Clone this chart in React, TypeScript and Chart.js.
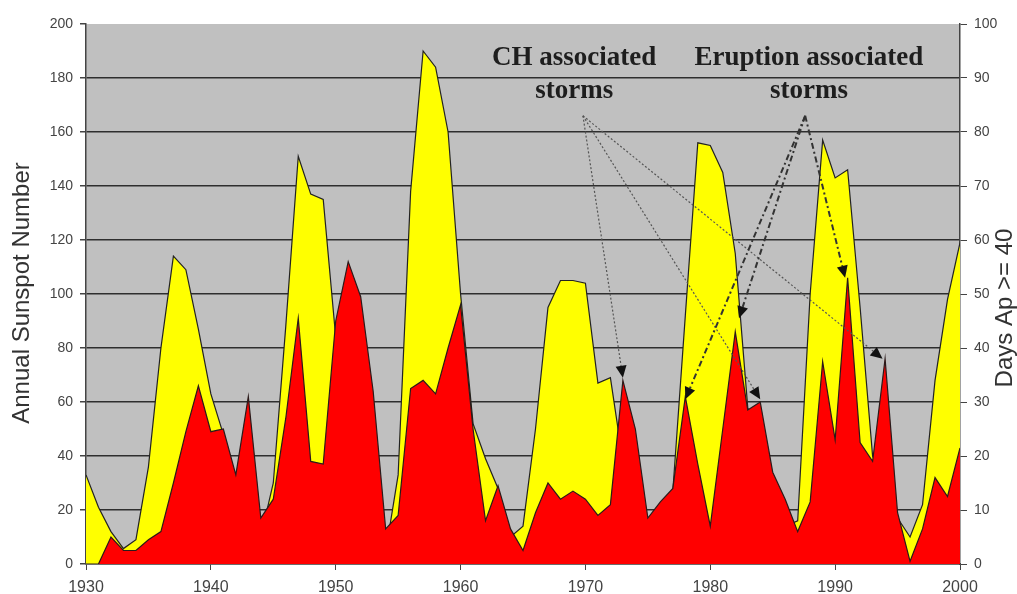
import React, { useEffect, useRef } from 'react';
import { Chart, registerables } from 'chart.js';

Chart.register(...registerables);

// Years on the x axis
const years = [
  1930, 1931, 1932, 1933, 1934, 1935, 1936, 1937, 1938, 1939,
  1940, 1941, 1942, 1943, 1944, 1945, 1946, 1947, 1948, 1949,
  1950, 1951, 1952, 1953, 1954, 1955, 1956, 1957, 1958, 1959,
  1960, 1961, 1962, 1963, 1964, 1965, 1966, 1967, 1968, 1969,
  1970, 1971, 1972, 1973, 1974, 1975, 1976, 1977, 1978, 1979,
  1980, 1981, 1982, 1983, 1984, 1985, 1986, 1987, 1988, 1989,
  1990, 1991, 1992, 1993, 1994, 1995, 1996, 1997, 1998, 1999,
  2000,
];

// Annual sunspot number (left axis, yellow)
const sunspotNumber = [
  33, 21, 12, 5.7, 9, 36, 80, 114, 109, 87,
  63, 48, 31, 16, 10, 30, 88, 151, 137, 135,
  84, 69, 31, 14, 4.4, 33, 138, 190, 184, 160,
  100, 52, 39, 28, 10, 14, 50, 95, 105, 105,
  104, 67, 69, 38, 34, 15, 12.6, 27, 92, 156,
  155, 145, 115, 58, 46, 18, 14, 16, 100, 157,
  143, 146, 95, 40, 30, 17, 10, 22, 68, 98,
  119,
];

// Days with Ap >= 40 (right axis, red)
const daysAp40 = [
  0, 0, 5, 2.5, 2.5, 4.5, 6, 15, 24.5, 33,
  24.5, 25, 16.5, 31, 8.5, 12, 27, 45.5, 19, 18.5,
  45, 56, 49.5, 32, 6.5, 9, 32.5, 34, 31.5, 40,
  48, 25, 8, 14.5, 6.5, 2.5, 9.5, 15, 12, 13.5,
  12, 9, 11, 34, 25, 8.5, 11.5, 14, 31, 18.5,
  7, 25, 43, 28.5, 30, 17, 12, 6, 11.5, 37.5,
  23, 53, 22.5, 19, 38, 9.5, 0.5, 6.5, 16, 12.5,
  21.5,
];

// Axis ranges / tick steps
const leftAxisRange = [0, 200];
const rightAxisRange = [0, 100];
const xAxisRange = [1930, 2000];
const leftStep = 20;
const rightStep = 10;
const xStep = 10;

// Annotation texts
const chLabel = ['CH associated', 'storms'];
const eruptionLabel = ['Eruption associated', 'storms'];

// Annotation arrows in data coordinates [year, left-axis value]
const chOrigin = [1969.8, 166];
const chTargets = [
  [1973, 69],
  [1984, 61],
  [1993.8, 76],
];
const eruptionOrigin = [1987.6, 166];
const eruptionTargets = [
  [1978, 61],
  [1982.3, 91],
  [1990.8, 106],
];

const leftTitle = 'Annual Sunspot Number';
const rightTitle = 'Days Ap >= 40';

function drawArrow(ctx, x0, y0, x1, y1, dash, color, width) {
  const ang = Math.atan2(y1 - y0, x1 - x0);
  const headLen = 12;
  const headW = 5.5;
  const bx = x1 - headLen * Math.cos(ang);
  const by = y1 - headLen * Math.sin(ang);
  ctx.save();
  ctx.strokeStyle = color;
  ctx.lineWidth = width;
  ctx.setLineDash(dash);
  ctx.beginPath();
  ctx.moveTo(x0, y0);
  ctx.lineTo(bx, by);
  ctx.stroke();
  ctx.setLineDash([]);
  ctx.fillStyle = '#111';
  ctx.beginPath();
  ctx.moveTo(x1, y1);
  ctx.lineTo(bx + headW * Math.sin(ang), by - headW * Math.cos(ang));
  ctx.lineTo(bx - headW * Math.sin(ang), by + headW * Math.cos(ang));
  ctx.closePath();
  ctx.fill();
  ctx.restore();
}

const backgroundPlugin = {
  id: 'plotBackground',
  beforeDraw(chart) {
    const { ctx, chartArea } = chart;
    ctx.save();
    ctx.fillStyle = '#c0c0c0';
    ctx.fillRect(chartArea.left, chartArea.top, chartArea.right - chartArea.left, chartArea.bottom - chartArea.top);
    ctx.restore();
  },
};

const annotationPlugin = {
  id: 'annotations',
  afterDraw(chart) {
    const { ctx } = chart;
    const xs = chart.scales.x;
    const ys = chart.scales.y;
    const px = (p) => [xs.getPixelForValue(p[0]), ys.getPixelForValue(p[1])];

    // arrows
    const co = px(chOrigin);
    chTargets.forEach((t) => {
      const p = px(t);
      drawArrow(ctx, co[0], co[1], p[0], p[1], [2, 2], '#555', 1.2);
    });
    const eo = px(eruptionOrigin);
    eruptionTargets.forEach((t) => {
      const p = px(t);
      drawArrow(ctx, eo[0], eo[1], p[0], p[1], [6, 3, 2, 3], '#333', 2);
    });

    // labels
    ctx.save();
    ctx.fillStyle = '#1e1e1e';
    ctx.font = 'bold 27px "Liberation Serif", "Times New Roman", serif';
    ctx.textAlign = 'center';
    ctx.textBaseline = 'alphabetic';
    const chX = xs.getPixelForValue(1969.1);
    const erX = xs.getPixelForValue(1987.9);
    ctx.fillText(chLabel[0], chX, 65);
    ctx.fillText(chLabel[1], chX, 98);
    ctx.fillText(eruptionLabel[0], erX, 65);
    ctx.fillText(eruptionLabel[1], erX, 98);
    ctx.restore();

    // axis titles
    ctx.save();
    ctx.fillStyle = '#333';
    ctx.font = '24px "Liberation Sans", Arial, sans-serif';
    ctx.textAlign = 'center';
    ctx.textBaseline = 'middle';
    ctx.translate(22, 293);
    ctx.rotate(-Math.PI / 2);
    ctx.fillText(leftTitle, 0, 0);
    ctx.restore();

    ctx.save();
    ctx.fillStyle = '#333';
    ctx.font = '24px "Liberation Sans", Arial, sans-serif';
    ctx.textAlign = 'center';
    ctx.textBaseline = 'middle';
    ctx.translate(1005, 308);
    ctx.rotate(-Math.PI / 2);
    ctx.fillText(rightTitle, 0, 0);
    ctx.restore();
  },
};

export default function App() {
  const canvasRef = useRef(null);

  useEffect(() => {
    const canvas = canvasRef.current;
    if (!canvas) return;
    const tickFont = { family: '"Liberation Sans", Arial, sans-serif', size: 14 };
    const xTickFont = { family: '"Liberation Sans", Arial, sans-serif', size: 16 };
    const chart = new Chart(canvas, {
      type: 'line',
      data: {
        datasets: [
          {
            label: 'Days Ap >= 40',
            data: years.map((yr, i) => ({ x: yr, y: daysAp40[i] })),
            yAxisID: 'y1',
            backgroundColor: '#ff0000',
            borderColor: '#2a1a1a',
            borderWidth: 1.2,
            fill: 'origin',
            tension: 0,
            pointRadius: 0,
            order: 0,
          },
          {
            label: 'Annual Sunspot Number',
            data: years.map((yr, i) => ({ x: yr, y: sunspotNumber[i] })),
            yAxisID: 'y',
            backgroundColor: '#ffff00',
            borderColor: '#222222',
            borderWidth: 1.2,
            fill: 'origin',
            tension: 0,
            pointRadius: 0,
            order: 1,
          },
        ],
      },
      options: {
        responsive: false,
        animation: false,
        devicePixelRatio: 1,
        layout: { padding: { top: 24, left: 0, right: 0, bottom: 0 } },
        plugins: {
          legend: { display: false },
          tooltip: { enabled: false },
        },
        scales: {
          x: {
            type: 'linear',
            min: xAxisRange[0],
            max: xAxisRange[1],
            afterFit: (s) => { s.height = 30; },
            ticks: {
              stepSize: xStep,
              color: '#444',
              font: xTickFont,
              padding: 8,
              maxRotation: 0,
              callback: (v) => String(v),
            },
            grid: { drawOnChartArea: false, drawTicks: true, tickLength: 6, tickColor: '#444' },
            border: { display: true, color: '#444', width: 1.5 },
          },
          y: {
            type: 'linear',
            position: 'left',
            min: leftAxisRange[0],
            max: leftAxisRange[1],
            afterFit: (s) => { s.width = 86; },
            ticks: { stepSize: leftStep, color: '#444', font: tickFont, padding: 7 },
            grid: {
              color: (c) => (c.tick && c.tick.value === leftAxisRange[1] ? 'rgba(0,0,0,0)' : '#2e2e2e'),
              lineWidth: 1.5,
              drawTicks: true,
              tickLength: 6,
              tickColor: '#444',
            },
            border: { display: true, color: '#444', width: 1.5 },
          },
          y1: {
            type: 'linear',
            position: 'right',
            min: rightAxisRange[0],
            max: rightAxisRange[1],
            afterFit: (s) => { s.width = 57; },
            ticks: { stepSize: rightStep, color: '#444', font: tickFont, padding: 7 },
            grid: { drawOnChartArea: false, drawTicks: true, tickLength: 7, tickColor: '#444' },
            border: { display: true, color: '#444', width: 1.5 },
          },
        },
      },
      plugins: [backgroundPlugin, annotationPlugin],
    });
    return () => chart.destroy();
  }, []);

  return (
    <div style={{ position: 'absolute', left: 0, top: 0, width: 1017, height: 594, background: '#fff' }}>
      <canvas ref={canvasRef} width={1017} height={594} />
    </div>
  );
}
